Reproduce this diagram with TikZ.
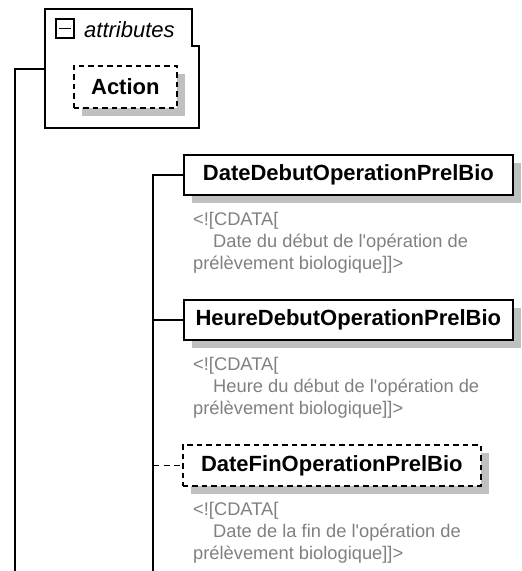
\documentclass[tikz,border=0pt]{standalone}
\usepackage{fontspec}
\setmainfont{Liberation Sans}
\usetikzlibrary{shadows,calc}
\definecolor{shadowc}{RGB}{192,192,192}
\definecolor{notec}{RGB}{128,128,128}
\begin{document}
\begin{tikzpicture}[x=1pt,y=-1pt]
\tikzset{
  elem/.style={draw, line width=1.7pt, fill=white, inner sep=0pt, anchor=north west,
    font=\fontsize{22}{26}\selectfont\bfseries,
    drop shadow={shadow xshift=8pt, shadow yshift=-8pt, fill=shadowc, opacity=1}},
  optelem/.style={elem, dash pattern=on 5.5pt off 4pt},
  note/.style={anchor=base west, inner sep=0pt, text=notec, font=\fontsize{18.3}{22}\selectfont},
  conn/.style={line width=1.7pt},
  optconn/.style={conn, dash pattern=on 6pt off 4.5pt},
}
\useasboundingbox (0,0) rectangle (522,571);
% attributes group
\draw[conn] (45,9) -- (192,9) -- (192,46) -- (199,46) -- (199,128) -- (45,128) -- cycle;
\node[draw, line width=1.5pt, minimum width=18pt, minimum height=19pt, inner sep=0pt, anchor=north west] (minus) at (55,18) {};
\draw[line width=1.5pt] ($(minus.west)+(4,0)$) -- ($(minus.east)+(-4,0)$);
\node[anchor=base west, inner sep=0pt, font=\fontsize{22}{26}\selectfont\itshape] (attrt) at (84,37) {attributes};
\node[optelem, minimum width=103pt, minimum height=42pt] (action) at (73,65) {Action};
\coordinate (attrL) at (45,69);
\coordinate (trunkA) at (15,571);
\draw[conn] (trunkA) |- (attrL);
% elements
\node[elem, minimum width=329pt, minimum height=40pt] (d1) at (183,154) {DateDebutOperationPrelBio};
\node[elem, minimum width=329pt, minimum height=40pt] (d2) at (183,299) {HeureDebutOperationPrelBio};
\node[optelem, minimum width=298pt, minimum height=41pt] (d3) at (182,444) {DateFinOperationPrelBio};
\coordinate (trunkB) at (153,571);
\draw[conn] (d1.west) -| (trunkB);
\draw[conn] (trunkB |- d2.west) -- (d2.west);
\draw[optconn] (trunkB |- d3.west) -- (d3.west);
% annotations
\node[note] (n1a) at (193,225) {<![CDATA[};
\node[note] (n1b) at (213,247) {Date du début de l\textquotesingle opération de};
\node[note] (n1c) at (193,269) {prélèvement biologique]]>};
\node[note] (n2a) at (193,370) {<![CDATA[};
\node[note] (n2b) at (213,392) {Heure du début de l\textquotesingle opération de};
\node[note] (n2c) at (193,414) {prélèvement biologique]]>};
\node[note] (n3a) at (193,515) {<![CDATA[};
\node[note] (n3b) at (213,537) {Date de la fin de l\textquotesingle opération de};
\node[note] (n3c) at (193,559) {prélèvement biologique]]>};
\end{tikzpicture}
\end{document}
